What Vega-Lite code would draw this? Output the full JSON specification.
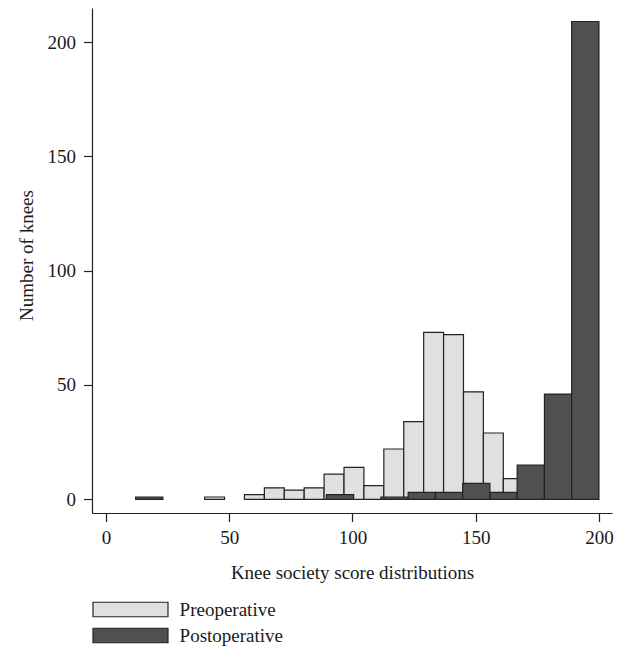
{
  "$schema": "https://vega.github.io/schema/vega-lite/v6.json",
  "description": "Knee society score distributions, pre- and postoperative",
  "autosize": "none",
  "padding": {"left": 92, "top": 8, "right": 9, "bottom": 137},
  "width": 520,
  "height": 505,
  "config": {
    "background": "#ffffff",
    "view": {"stroke": null},
    "font": "Liberation Serif",
    "axis": {
      "grid": false,
      "domainColor": "#222222",
      "domainWidth": 1.2,
      "tickColor": "#222222",
      "tickWidth": 1.2,
      "tickSize": 8.5,
      "labelFont": "Liberation Serif",
      "labelFontSize": 19,
      "labelColor": "#1a1a1a",
      "titleFont": "Liberation Serif",
      "titleFontSize": 19,
      "titleFontWeight": "normal",
      "titleColor": "#1a1a1a"
    },
    "legend": {
      "labelFont": "Liberation Serif",
      "labelFontSize": 19,
      "labelColor": "#1a1a1a"
    }
  },
  "data": {
    "values": [
      {"group": "Preoperative", "start": 40.0, "end": 48.08, "count": 1},
      {"group": "Preoperative", "start": 56.16, "end": 64.24, "count": 2},
      {"group": "Preoperative", "start": 64.24, "end": 72.32, "count": 5},
      {"group": "Preoperative", "start": 72.32, "end": 80.4, "count": 4},
      {"group": "Preoperative", "start": 80.4, "end": 88.48, "count": 5},
      {"group": "Preoperative", "start": 88.48, "end": 96.56, "count": 11},
      {"group": "Preoperative", "start": 96.56, "end": 104.64, "count": 14},
      {"group": "Preoperative", "start": 104.64, "end": 112.72, "count": 6},
      {"group": "Preoperative", "start": 112.72, "end": 120.8, "count": 22},
      {"group": "Preoperative", "start": 120.8, "end": 128.88, "count": 34},
      {"group": "Preoperative", "start": 128.88, "end": 136.96, "count": 73},
      {"group": "Preoperative", "start": 136.96, "end": 145.04, "count": 72},
      {"group": "Preoperative", "start": 145.04, "end": 153.12, "count": 47},
      {"group": "Preoperative", "start": 153.12, "end": 161.2, "count": 29},
      {"group": "Preoperative", "start": 161.2, "end": 169.28, "count": 9},
      {"group": "Postoperative", "start": 12.0, "end": 23.06, "count": 1},
      {"group": "Postoperative", "start": 89.41, "end": 100.47, "count": 2},
      {"group": "Postoperative", "start": 111.53, "end": 122.59, "count": 1},
      {"group": "Postoperative", "start": 122.59, "end": 133.65, "count": 3},
      {"group": "Postoperative", "start": 133.65, "end": 144.71, "count": 3},
      {"group": "Postoperative", "start": 144.71, "end": 155.76, "count": 7},
      {"group": "Postoperative", "start": 155.76, "end": 166.82, "count": 3},
      {"group": "Postoperative", "start": 166.82, "end": 177.88, "count": 15},
      {"group": "Postoperative", "start": 177.88, "end": 188.94, "count": 46},
      {"group": "Postoperative", "start": 188.94, "end": 200.0, "count": 209}
    ]
  },
  "mark": {"type": "bar", "stroke": "#222222", "strokeWidth": 1.2, "opacity": 1},
  "encoding": {
    "x": {
      "field": "start",
      "type": "quantitative",
      "scale": {"domain": [-5.7, 205.3], "nice": false, "zero": false},
      "axis": {
        "title": "Knee society score distributions",
        "values": [0, 50, 100, 150, 200],
        "labelPadding": 7,
        "titlePadding": 16
      }
    },
    "x2": {"field": "end"},
    "y": {
      "field": "count",
      "type": "quantitative",
      "scale": {"domain": [-6, 214.9], "nice": false, "zero": false},
      "axis": {
        "title": "Number of knees",
        "values": [0, 50, 100, 150, 200],
        "labelPadding": 8,
        "titlePadding": 11,
        "titleY": 247
      }
    },
    "y2": {"datum": 0},
    "color": {
      "field": "group",
      "type": "nominal",
      "scale": {
        "domain": ["Preoperative", "Postoperative"],
        "range": ["#e0e0e0", "#4f5150"]
      },
      "legend": {
        "title": null,
        "orient": "none",
        "legendX": 29,
        "legendY": 592,
        "padding": 0,
        "symbolType": "M-5,-0.967H5V0.967H-5Z",
        "symbolSize": 225,
        "symbolStrokeColor": "#222222",
        "symbolStrokeWidth": 1.2,
        "symbolOpacity": 1,
        "labelOffset": 39.6,
        "rowPadding": 5
      }
    }
  }
}
